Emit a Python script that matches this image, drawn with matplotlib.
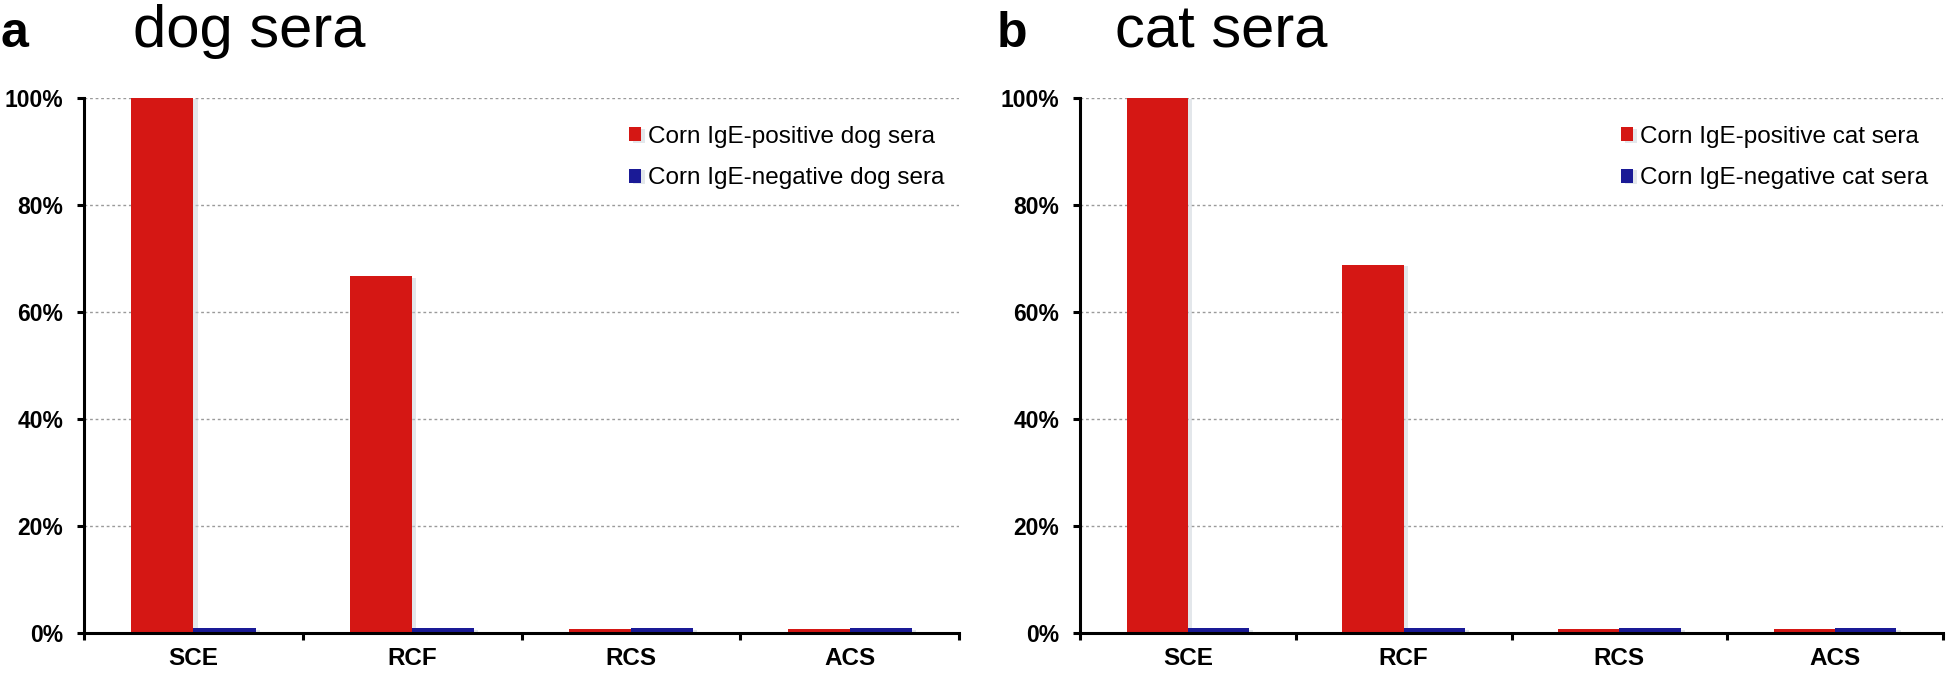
import matplotlib
matplotlib.use("Agg")
import matplotlib.pyplot as plt
import matplotlib.patheffects as pe
import numpy as np

plt.rcParams['font.family'] = ['Liberation Sans', 'DejaVu Sans']

categories = ["SCE", "RCF", "RCS", "ACS"]
dog_positive = [100.0, 66.7, 0.7, 0.7]
dog_negative = [0.9, 0.9, 0.9, 0.9]
cat_positive = [100.0, 68.8, 0.7, 0.7]
cat_negative = [0.9, 0.9, 0.9, 0.9]
yticks = [0, 20, 40, 60, 80, 100]
ytick_labels = ["0%", "20%", "40%", "60%", "80%", "100%"]

RED = "#D51714"
BLUE = "#1A1A96"

W, H = 1946, 675
fig = plt.figure(figsize=(W / 100, H / 100), dpi=100)

def px_axes(x0, x1, y0, y1):
    return [x0 / W, (H - y0) / H, (x1 - x0) / W, (y0 - y1) / H]

panels = [
    dict(rect=px_axes(84, 959, 633, 98), pos=dog_positive, neg=dog_negative,
         labels=["Corn IgE-positive dog sera", "Corn IgE-negative dog sera"]),
    dict(rect=px_axes(1080, 1943, 633, 98), pos=cat_positive, neg=cat_negative,
         labels=["Corn IgE-positive cat sera", "Corn IgE-negative cat sera"]),
]

x = np.arange(len(categories))
bw = 0.284
shadow = [pe.SimplePatchShadow(offset=(3, -1), shadow_rgbFace="#c8d0d8", alpha=0.5), pe.Normal()]

for p in panels:
    ax = fig.add_axes(p["rect"])
    ax.set_axisbelow(True)
    ax.yaxis.grid(True, linestyle=(0, (2, 2)), color="#9a9a9a", linewidth=1.0)
    b1 = ax.bar(x - bw / 2, p["pos"], bw, color=RED, label=p["labels"][0], zorder=2)
    b2 = ax.bar(x + bw / 2, p["neg"], bw, color=BLUE, label=p["labels"][1], zorder=2)
    for r in list(b1) + list(b2):
        r.set_path_effects(shadow)
    ax.set_xlim(-0.5, len(categories) - 0.5)
    ax.set_ylim(0, 100)
    ax.set_yticks(yticks)
    ax.set_yticklabels(ytick_labels, fontsize=16.5, fontweight="bold")
    ax.set_xticks(x)
    ax.set_xticklabels(categories, fontsize=17.5, fontweight="bold")
    ax.set_xticks(np.arange(len(categories) + 1) - 0.5, minor=True)
    ax.tick_params(axis="x", which="major", length=0, pad=10)
    ax.tick_params(axis="x", which="minor", length=5, width=2.2, direction="out")
    ax.tick_params(axis="y", length=5, width=2.2, direction="out", pad=10)
    for s in ["top", "right"]:
        ax.spines[s].set_visible(False)
    for s in ["left", "bottom"]:
        ax.spines[s].set_linewidth(2.2)
    ax.spines["bottom"].set_zorder(3)
    leg = ax.legend(loc="upper right", bbox_to_anchor=(1.0, 0.975), frameon=False,
                    fontsize=17.5, handlelength=0.5, handleheight=0.5,
                    handletextpad=0.3, labelspacing=0.8, borderaxespad=0.2)

fig.text(0 / W, 1 - 47 / H, "a", fontsize=36, fontweight="bold", va="baseline", ha="left")
fig.text(133 / W, 1 - 47 / H, "dog sera", fontsize=43, va="baseline", ha="left")
fig.text(997 / W, 1 - 47 / H, "b", fontsize=36, fontweight="bold", va="baseline", ha="left")
fig.text(1115 / W, 1 - 47 / H, "cat sera", fontsize=43, va="baseline", ha="left")

fig.savefig("out.png", dpi=100)
